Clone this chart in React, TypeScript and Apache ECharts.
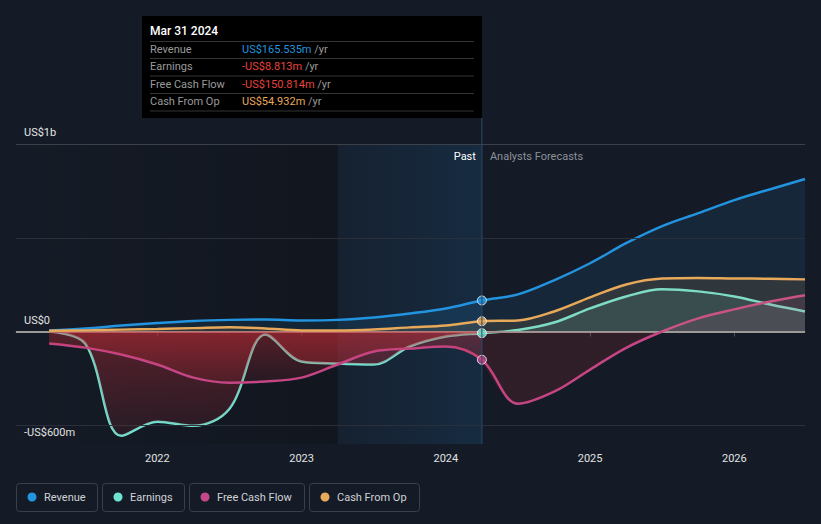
import React, { useEffect, useRef } from 'react';
import * as echarts from 'echarts';

// ---------- data (US$ millions, x in decimal years) ----------
const pastYears = [2021.25, 2021.5, 2021.75, 2022, 2022.25, 2022.5, 2022.75, 2023, 2023.25, 2023.5, 2023.75, 2024, 2024.25];
const forecastYears = [2024.25, 2024.5, 2024.75, 2025, 2025.25, 2025.5, 2025.75, 2026, 2026.25, 2026.49];

const revenuePast = [5, 16, 32, 45, 56, 62, 64, 59, 62, 75, 96, 123, 165.535];
const revenueForecast = [165.535, 198, 273, 364, 471, 562, 631, 701, 759, 813];

const earningsPast = [0, -64, -556, -481, -503, -412, -16, -160, -171, -176, -80, -27, -8.813];
const earningsForecast = [-8.813, 8, 48, 123, 187, 225, 214, 187, 144, 107];

const fcfPast = [-64, -86, -123, -176, -246, -273, -267, -246, -176, -107, -91, -80, -150.814];
const fcfForecast = [-150.814, -385, -321, -203, -87, 0, 70, 118, 160, 193];

const cfoPast = [4, 6, 10, 13, 18, 23, 16, 6, 6, 11, 22, 32, 54.932];
const cfoForecast = [54.932, 59, 107, 182, 251, 283, 286, 283, 281, 278];

const seriesNames = ['Revenue', 'Earnings', 'Free Cash Flow', 'Cash From Op'];
const seriesColors = ['#2394df', '#6fe3d1', '#c4478a', '#e8a95a'];

const tooltipDate = 'Mar 31 2024';
const tooltipValues = ['US$165.535m', '-US$8.813m', '-US$150.814m', 'US$54.932m'];
const tooltipValueColors = ['#2394df', '#e8423f', '#e8423f', '#e8a95a'];

const xTicks = [2022, 2023, 2024, 2025, 2026];
const yTickLabels: Record<string, string> = { '1000': 'US$1b', '0': 'US$0', '-600': '-US$600m' };
const gridValues = [-500, 500, 1000];

const xMin = 2021.02;
const xMax = 2026.49;
const yMin = -600;
const yMax = 1000;
const nowYear = 2024.25;
const highlightStart = 2023.25;

const FONT = 'Roboto, "Noto Sans", sans-serif';
const FS = 11;

const toPairs = (xs: number[], ys: number[]) => xs.map((x, i) => [x, ys[i]]);

function rgba(hex: string, a: number) {
  const h = hex.replace('#', '');
  const r = parseInt(h.slice(0, 2), 16);
  const g = parseInt(h.slice(2, 4), 16);
  const b = parseInt(h.slice(4, 6), 16);
  return `rgba(${r},${g},${b},${a})`;
}

const RED = '#d22d37';

function signedGradient(values: number[], pos: string, neg: string) {
  const top = Math.max(0, ...values);
  const bottom = Math.min(0, ...values);
  const f = top - bottom === 0 ? 1 : top / (top - bottom);
  return new echarts.graphic.LinearGradient(0, 0, 0, 1, [
    { offset: 0, color: pos },
    { offset: f, color: pos },
    { offset: Math.min(1, f + 0.0001), color: neg },
    { offset: 1, color: neg },
  ]);
}

function pastNegGradient() {
  return new echarts.graphic.LinearGradient(0, 0, 0, 1, [
    { offset: 0, color: rgba(RED, 0.36) },
    { offset: 1, color: rgba(RED, 0.1) },
  ]);
}

export default function App() {
  const ref = useRef<HTMLDivElement>(null);

  useEffect(() => {
    if (!ref.current) return;
    const chart = echarts.init(ref.current, undefined, { renderer: 'svg' });

    const metrics = [
      { past: revenuePast, fc: revenueForecast, pastFill: rgba(seriesColors[0], 0.12), fcFill: rgba(seriesColors[0], 0.1) },
      { past: earningsPast, fc: earningsForecast, pastFill: pastNegGradient(), fcFill: signedGradient(earningsForecast, rgba(seriesColors[1], 0.13), rgba(RED, 0.14)) },
      { past: fcfPast, fc: fcfForecast, pastFill: pastNegGradient(), fcFill: signedGradient(fcfForecast, rgba(seriesColors[2], 0.13), rgba(RED, 0.14)) },
      { past: cfoPast, fc: cfoForecast, pastFill: rgba(seriesColors[3], 0.12), fcFill: rgba(seriesColors[3], 0.12) },
    ];

    const SMOOTH = 0.35;
    const series: any[] = [];

    // background helper: shaded regions + grid lines
    series.push({
      type: 'line',
      data: [],
      z: 1,
      silent: true,
      markArea: {
        silent: true,
        data: [
          [
            {
              xAxis: xMin,
              itemStyle: {
                color: new echarts.graphic.LinearGradient(0, 0, 1, 0, [
                  { offset: 0, color: 'rgba(0,0,0,0)' },
                  { offset: 1, color: 'rgba(0,0,0,0.2)' },
                ]),
              },
            },
            { xAxis: highlightStart },
          ],
          [
            {
              xAxis: highlightStart,
              itemStyle: {
                color: new echarts.graphic.LinearGradient(0, 0, 1, 0, [
                  { offset: 0, color: 'rgba(33,150,243,0.05)' },
                  { offset: 1, color: 'rgba(33,150,243,0.13)' },
                ]),
              },
            },
            { xAxis: nowYear },
          ],
        ],
      },
      markLine: {
        silent: true,
        symbol: 'none',
        label: { show: false },
        data: gridValues.map((v) => ({
          yAxis: v,
          lineStyle: { color: v === yMax ? '#3b4049' : '#2a2f39', width: 1, type: 'solid' },
        })),
      },
    });

    metrics.forEach((m, i) => {
      const full = toPairs(pastYears, m.past).concat(toPairs(forecastYears.slice(1), m.fc.slice(1)));
      series.push({
        type: 'line',
        name: seriesNames[i],
        data: full,
        smooth: SMOOTH,
        symbol: 'none',
        silent: true,
        z: 2 + 2 * i,
        lineStyle: { color: seriesColors[i], width: 2.5 },
      });
      series.push({
        type: 'line',
        data: toPairs(pastYears, m.past),
        smooth: SMOOTH,
        symbol: 'none',
        silent: true,
        z: 3 + 2 * i,
        lineStyle: { width: 0, opacity: 0 },
        areaStyle: { color: m.pastFill, opacity: 1 },
      });
      series.push({
        type: 'line',
        data: toPairs(forecastYears, m.fc),
        smooth: SMOOTH,
        symbol: 'none',
        silent: true,
        z: 3 + 2 * i,
        lineStyle: { width: 0, opacity: 0 },
        areaStyle: { color: m.fcFill, opacity: 1 },
      });
    });

    // zero line
    series.push({
      type: 'line',
      data: [],
      z: 10,
      silent: true,
      markLine: {
        silent: true,
        symbol: 'none',
        label: { show: false },
        data: [{ yAxis: 0, lineStyle: { color: '#9a9a9a', width: 2, type: 'solid' } }],
      },
    });

    // current-point dots
    const nowValues = metrics.map((m) => m.past[m.past.length - 1]);
    series.push({
      type: 'scatter',
      z: 11,
      silent: true,
      symbolSize: 9,
      data: nowValues.map((v, i) => ({
        value: [nowYear, v],
        itemStyle: { color: seriesColors[i], borderColor: '#ffffff', borderWidth: 1 },
      })),
    });

    chart.setOption({
      animation: false,
      backgroundColor: '#151b26',
      textStyle: { fontFamily: FONT },
      grid: { left: 16, right: 16, top: 144, bottom: 80 },
      xAxis: {
        type: 'value',
        min: xMin,
        max: xMax,
        splitLine: { show: false },
        axisLine: { show: true, lineStyle: { color: '#4b505a', width: 1 } },
        axisTick: { show: true, customValues: xTicks, length: 5, lineStyle: { color: '#4b505a' } },
        axisLabel: {
          customValues: xTicks,
          formatter: (v: number) => String(Math.round(v)),
          color: '#e2e2e2',
          fontSize: FS,
          margin: 9,
          fontFamily: FONT,
        },
      },
      yAxis: {
        type: 'value',
        min: yMin,
        max: yMax,
        interval: 100,
        splitLine: { show: false },
        axisLine: { show: false },
        axisTick: { show: false },
        axisLabel: {
          inside: true,
          margin: 8,
          color: '#e6e6e6',
          fontSize: FS,
          fontFamily: FONT,
          verticalAlign: 'bottom',
          padding: [0, 0, 6, 0],
          formatter: (v: number) => yTickLabels[String(Math.round(v))] ?? '',
        },
      },
      series,
    });

    // overlay graphics positioned from the axes
    const px = chart.convertToPixel({ xAxisIndex: 0 }, nowYear) as number;
    const yTop = chart.convertToPixel({ yAxisIndex: 0 }, yMax) as number;
    const yBottom = chart.convertToPixel({ yAxisIndex: 0 }, yMin) as number;

    const boxX = 142;
    const boxY = 16;
    const boxW = px - boxX;
    const boxH = 102;
    const rowYs = [49, 66.5, 84, 101.5];
    const sepYs = [41.5, 58.5, 76, 93.5, 111];

    const graphics: any[] = [];
    graphics.push({
      type: 'line',
      silent: true,
      z: 50,
      shape: { x1: px, y1: boxY + boxH, x2: px, y2: yBottom },
      style: { stroke: '#2c4a63', lineWidth: 1 },
    });
    graphics.push({
      type: 'rect',
      silent: true,
      z: 60,
      shape: { x: boxX, y: boxY, width: boxW, height: boxH },
      style: { fill: '#000000' },
    });
    graphics.push({
      type: 'text',
      silent: true,
      z: 61,
      x: boxX + 8,
      y: 31,
      style: { text: tooltipDate, fill: '#ffffff', fontSize: 12, fontWeight: 500, fontFamily: FONT, verticalAlign: 'middle' },
    });
    sepYs.forEach((y) => {
      graphics.push({
        type: 'line',
        silent: true,
        z: 61,
        shape: { x1: boxX + 8, y1: y, x2: boxX + boxW - 8, y2: y },
        style: { stroke: '#343434', lineWidth: 1 },
      });
    });
    seriesNames.forEach((name, i) => {
      graphics.push({
        type: 'text',
        silent: true,
        z: 61,
        x: boxX + 8,
        y: rowYs[i],
        style: { text: name, fill: '#9a9a9a', fontSize: FS, fontFamily: FONT, verticalAlign: 'middle' },
      });
      graphics.push({
        type: 'text',
        silent: true,
        z: 61,
        x: 242,
        y: rowYs[i],
        style: {
          text: `{v|${tooltipValues[i]}} {u|/yr}`,
          fontSize: FS,
          fontFamily: FONT,
          verticalAlign: 'middle',
          fill: '#9a9a9a',
          rich: {
            v: { fill: tooltipValueColors[i], color: tooltipValueColors[i], fontSize: FS, fontFamily: FONT },
            u: { fill: '#9a9a9a', color: '#9a9a9a', fontSize: FS, fontFamily: FONT },
          },
        },
      });
    });
    graphics.push({
      type: 'text',
      silent: true,
      z: 61,
      x: px - 6,
      y: yTop + 12,
      style: { text: 'Past', fill: '#ffffff', fontSize: FS, fontFamily: FONT, align: 'right', verticalAlign: 'middle' },
    });
    graphics.push({
      type: 'text',
      silent: true,
      z: 61,
      x: px + 8,
      y: yTop + 12,
      style: { text: 'Analysts Forecasts', fill: '#8b9099', fontSize: FS, fontFamily: FONT, align: 'left', verticalAlign: 'middle' },
    });

    // legend
    const legendW = [81, 82, 115, 110];
    let lx = 16;
    seriesNames.forEach((name, i) => {
      graphics.push({
        type: 'rect',
        silent: true,
        shape: { x: lx + 0.5, y: 483.5, width: legendW[i], height: 28, r: 3 },
        style: { fill: 'transparent', stroke: '#3a3f4a', lineWidth: 1 },
      });
      graphics.push({
        type: 'circle',
        silent: true,
        shape: { cx: lx + 16, cy: 497, r: 4.5 },
        style: { fill: seriesColors[i] },
      });
      graphics.push({
        type: 'text',
        silent: true,
        x: lx + 28,
        y: 497,
        style: { text: name, fill: '#cfd2d6', fontSize: FS, fontFamily: FONT, verticalAlign: 'middle' },
      });
      lx += legendW[i] + 5;
    });

    chart.setOption({ graphic: graphics });

    return () => chart.dispose();
  }, []);

  return (
    <div style={{ position: 'fixed', inset: 0, background: '#151b26' }}>
      <div ref={ref} style={{ width: 821, height: 524 }} />
    </div>
  );
}
